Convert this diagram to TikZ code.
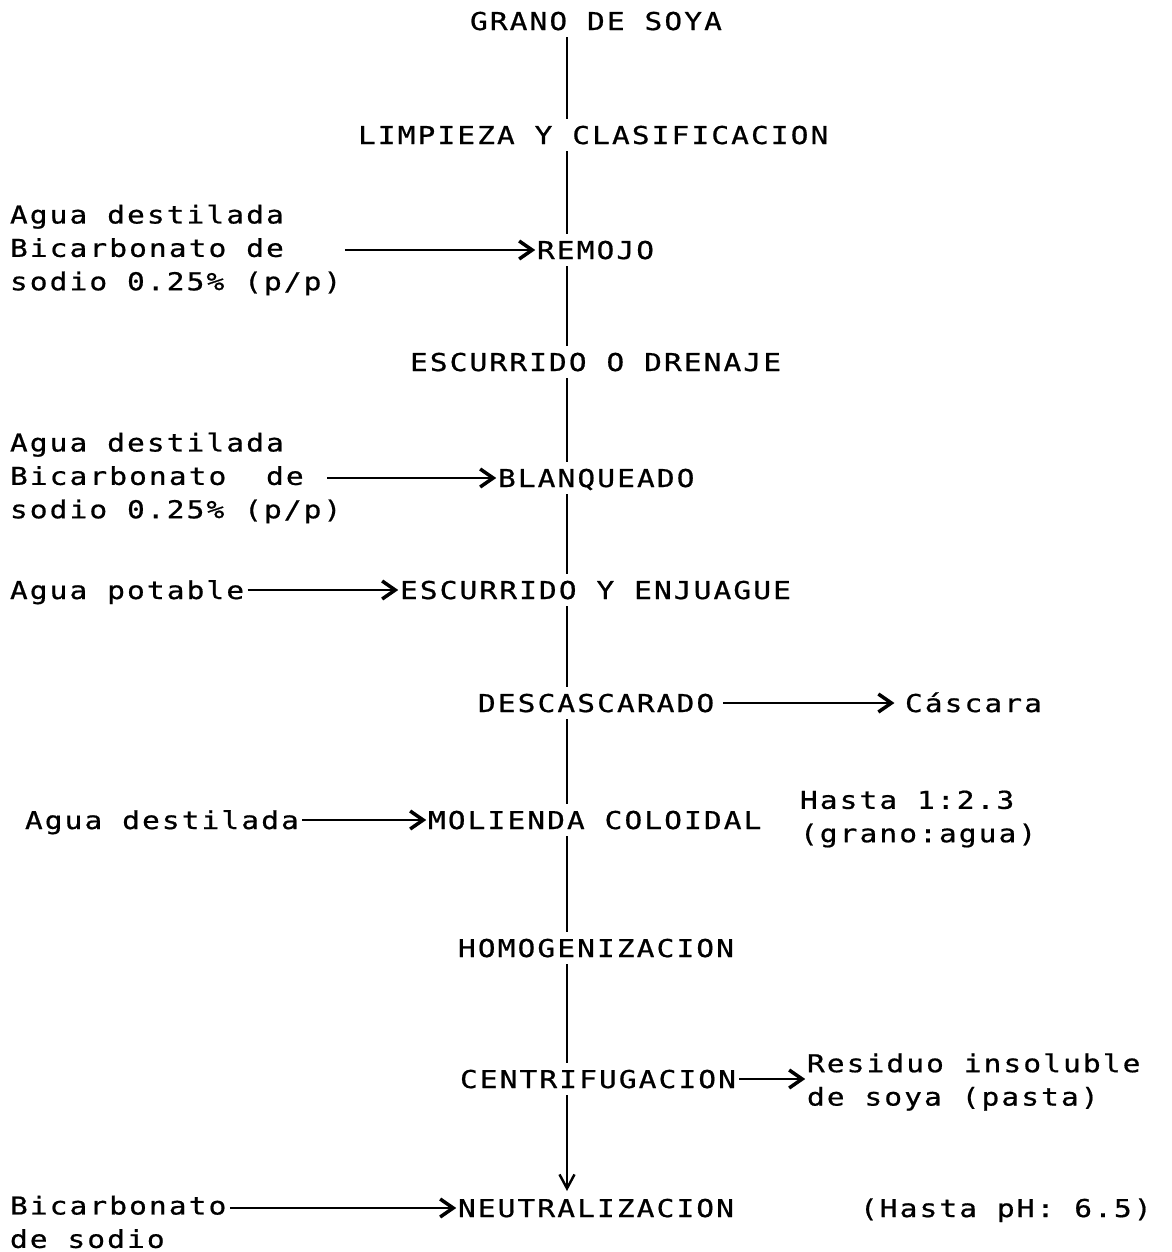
\documentclass[tikz,border=0pt]{standalone}
\usepackage{fontspec}
\newfontfamily\maquina{DejaVu Sans Mono}[FakeStretch=1.2,LetterSpace=8.5,FakeBold=0.7]
\usetikzlibrary{arrows.meta}
\tikzset{
  texto/.style={anchor=west,inner sep=0pt,outer sep=0pt,font=\maquina\fontsize{14}{19}\selectfont},
  paso/.style={texto,text height=0.36cm,text depth=0pt},
  nota/.style={texto,align=left},
  linea/.style={line width=1.7pt,shorten <=0.14cm,shorten >=0.14cm},
  flecha/.style={line width=1.6pt,shorten <=2pt,shorten >=1pt,
    -{Straight Barb[length=2.6mm,width=3.6mm,line width=2pt]}},
  bajada/.style={line width=1.5pt,shorten <=0.14cm,shorten >=0.16cm,
    -{Straight Barb[length=2.8mm,width=3mm,line width=1.4pt]}}
}

\begin{document}
\begin{tikzpicture}[x=0.02cm,y=-0.02cm]
 \useasboundingbox (0,0) rectangle (1171,1252);
 \coordinate (eje) at (567,0);
 % pasos del proceso
 \node[paso] (grano)   at (470,21)   {GRANO DE SOYA};
 \node[paso] (limpieza) at (358,135) {LIMPIEZA Y CLASIFICACION};
 \node[paso] (remojo)  at (537,250)  {REMOJO};
 \node[paso] (drenaje) at (410,362)  {ESCURRIDO O DRENAJE};
 \node[paso] (blanqueado) at (498,478) {BLANQUEADO};
 \node[paso] (enjuague) at (400,590) {ESCURRIDO Y ENJUAGUE};
 \node[paso] (descascarado) at (478,703) {DESCASCARADO};
 \node[paso] (molienda) at (428,820) {MOLIENDA COLOIDAL};
 \node[paso] (homogen) at (458,948)  {HOMOGENIZACION};
 \node[paso] (centri)  at (460,1079) {CENTRIFUGACION};
 \node[paso] (neutral) at (458,1208) {NEUTRALIZACION};
 % entradas y salidas
 \node[nota] (agua1) at (10,250) {Agua destilada\\Bicarbonato de\\sodio 0.25\% (p/p)};
 \node[nota] (agua2) at (10,478) {Agua destilada\\Bicarbonato\ \ de\\sodio 0.25\% (p/p)};
 \node[paso] (potable) at (10,590) {Agua potable};
 \node[paso] (cascara) at (905,703) {Cáscara};
 \node[paso] (destilada) at (25,820) {Agua destilada};
 \node[nota] (hasta) at (800,819) {Hasta 1:2.3\\(grano:agua)};
 \node[nota] (residuo) at (807,1082) {Residuo insoluble\\de soya (pasta)};
 \node[nota] (bicarb) at (10,1222) {Bicarbonato\\de sodio};
 \node[paso] (ph) at (860,1208) {(Hasta pH: 6.5)};
 % eje vertical
 \foreach \a/\b in {grano/limpieza,limpieza/remojo,remojo/drenaje,drenaje/blanqueado,
   blanqueado/enjuague,enjuague/descascarado,descascarado/molienda,molienda/homogen,homogen/centri}
   \draw[linea] (\a.south -| eje) -- (\b.north -| eje);
 \draw[bajada] (centri.south -| eje) -- (neutral.north -| eje);
 % flechas laterales
 \draw[flecha] (agua1.east) -- (agua1.east -| remojo.west);
 \draw[flecha,shorten <=-8pt] (agua2.east) -- (agua2.east -| blanqueado.west);
 \draw[flecha] (potable.east) -- (enjuague.west);
 \draw[flecha] (destilada.east) -- (molienda.west);
 \draw[flecha,shorten <=5pt,shorten >=6pt] (descascarado.east) -- (cascara.west);
 \draw[flecha] (centri.east) -- (centri.east -| residuo.west);
 \draw[flecha] (bicarb.east |- neutral) -- (neutral.west);
\end{tikzpicture}
\end{document}
